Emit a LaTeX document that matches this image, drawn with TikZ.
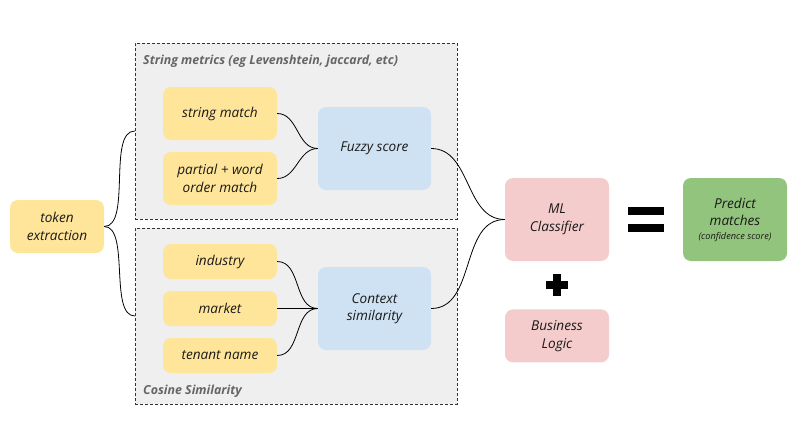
\documentclass[tikz,border=0pt]{standalone}
\usepackage{fontspec}
\setmainfont{Open Sans}
\usepackage{xcolor}
\usetikzlibrary{positioning}
\definecolor{tokyel}{HTML}{FFE599}
\definecolor{scoreblue}{HTML}{CFE2F3}
\definecolor{mlpink}{HTML}{F4CCCC}
\definecolor{predgreen}{HTML}{93C47D}
\definecolor{grpgray}{HTML}{EFEFEF}
\definecolor{lblgray}{HTML}{666666}

\begin{document}
\begin{tikzpicture}[x=1pt,y=-1pt,
    base/.style={rectangle,rounded corners=8pt,align=center,inner sep=2pt,
      font=\itshape\fontsize{13.6}{17.5}\selectfont,text=black!90},
    feat/.style={base,fill=tokyel,minimum width=114pt,minimum height=53pt},
    small/.style={feat,minimum height=35pt},
    score/.style={base,fill=scoreblue,minimum width=113pt,minimum height=83pt},
    clf/.style={base,fill=mlpink,minimum width=104pt,minimum height=83pt},
    grp/.style={rectangle,draw=black!80,dash pattern=on 3pt off 2pt,fill=grpgray,
      minimum width=322pt,minimum height=176pt,inner sep=0pt},
    grplbl/.style={anchor=west,inner sep=0pt,text=lblgray,
      font=\bfseries\itshape\fontsize{12.4}{14}\selectfont},
    link/.style={-,black,line width=0.8pt}]
\useasboundingbox (0,0) rectangle (792,444);
% dashed groups
\node[grp] (strgrp) at (296,131) {};
\node[grp] (cosgrp) at (296,316) {};
\node[grplbl] (strlbl) at (143,61) {String metrics (eg Levenshtein, jaccard, etc)};
\node[grplbl] (coslbl) at (143,391) {Cosine Similarity};
% input
\node[feat,minimum width=94pt] (tok) at (57,226.5) {token\\extraction};
% string metric features
\node[feat] (smatch) at (220,113.5) {string match};
\node[feat] (pmatch) at (220,178.5) {partial + word\\order match};
\node[score] (fuzzy) at (374.5,148.5) {Fuzzy score};
% cosine features
\node[small] (ind) at (220,261.5) {industry};
\node[small] (mkt) at (220,308.5) {market};
\node[small] (ten) at (220,355.5) {tenant name};
\node[score] (ctx) at (374.5,308.5) {Context\\similarity};
% classifier and result
\node[clf] (ml) at (557,219.5) {ML\\Classifier};
\node[clf,minimum height=53pt,below=48pt of ml] (biz) {Business\\Logic};
\node[base,fill=predgreen,minimum width=104pt,minimum height=83pt] (pred) at (735,219.5)
  {Predict\\matches\\[-4pt]{\fontsize{9.2}{11}\selectfont(confidence score)}};
% equals and plus signs
\fill[black] (628,207) rectangle (664,215);
\fill[black] (628,224) rectangle (664,232);
\fill[black] (546,281) rectangle (568,289);
\fill[black] (553,274) rectangle (561,296);
% connectors
\draw[link] (tok.east) to[out=0,in=180,looseness=0.7] (strgrp.west);
\draw[link] (tok.east) to[out=0,in=180,looseness=0.7] (cosgrp.west);
\foreach \f in {smatch,pmatch} {
  \draw[link] (\f.east) to[out=0,in=180] (fuzzy.west);
}
\foreach \f in {ind,mkt,ten} {
  \draw[link] (\f.east) to[out=0,in=180] (ctx.west);
}
\draw[link] (fuzzy.east) to[out=0,in=180] (ml.west);
\draw[link] (ctx.east) to[out=0,in=180] (ml.west);
\end{tikzpicture}
\end{document}
